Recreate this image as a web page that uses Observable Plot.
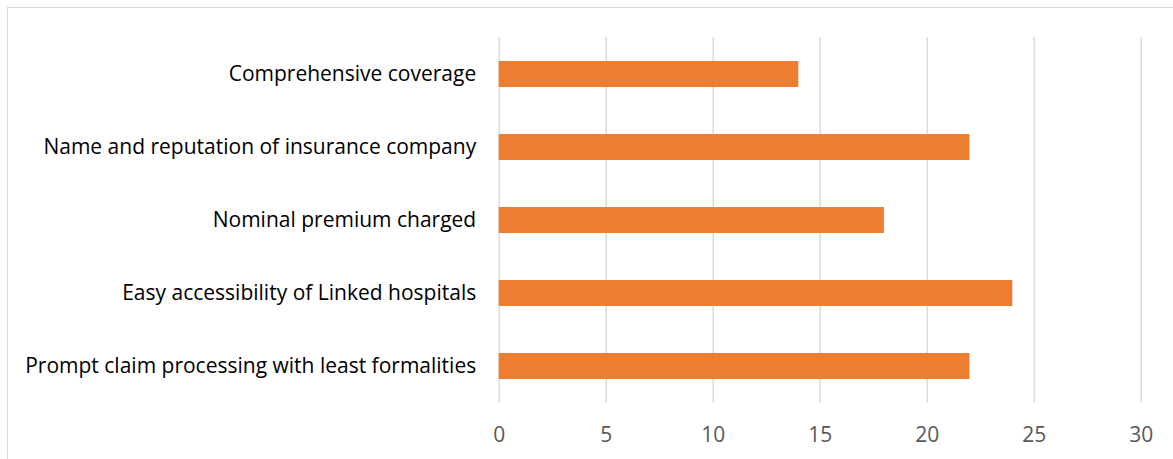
<!DOCTYPE html>
<html>
<head>
<meta charset="utf-8">
<script src="https://cdn.jsdelivr.net/npm/d3@7"></script>
<script src="https://cdn.jsdelivr.net/npm/@observablehq/plot@0.6"></script>
<style>
  html, body { margin: 0; padding: 0; background: #fff; }
  #chart { position: relative; width: 1173px; height: 459px; }
  #frame { position: absolute; left: 7px; top: 7px; width: 1180px; height: 470px; border: 1.5px solid #d9d9d9; box-sizing: border-box; }
  #chart svg { position: absolute; left: 0; top: 0; }
</style>
</head>
<body>
<div id="chart"><div id="frame"></div></div>
<script>
const categories = [
  "Comprehensive coverage",
  "Name and reputation of insurance company",
  "Nominal premium charged",
  "Easy accessibility of Linked hospitals",
  "Prompt claim processing with least formalities"
];
const values = [14, 22, 18, 24, 22];
const xTicks = [0, 5, 10, 15, 20, 25, 30];

const data = categories.map((c, i) => ({category: c, value: values[i]}));

const plot = Plot.plot({
  width: 1173,
  height: 459,
  marginLeft: 498.7,
  marginRight: 32.3,
  marginTop: 37,
  marginBottom: 56.5,
  style: {fontFamily: "'Open Sans', sans-serif", fontSize: "21px", background: "transparent"},
  x: {domain: [0, 30], ticks: xTicks, label: null},
  y: {domain: categories, paddingInner: 0.64, paddingOuter: 0.32, label: null},
  marks: [
    Plot.gridX(xTicks, {stroke: "#d9d9d9", strokeOpacity: 1, strokeWidth: 1.4}),
    Plot.barX(data, {y: "category", x: "value", fill: "#ED7D31"}),
    Plot.axisX({ticks: xTicks, tickSize: 0, tickPadding: 24, fill: "#595959", fontSize: 21, label: null}),
    Plot.axisY({tickSize: 0, tickPadding: 23, fill: "#000", fontSize: 21, label: null})
  ]
});
document.getElementById("chart").appendChild(plot);
</script>
</body>
</html>
